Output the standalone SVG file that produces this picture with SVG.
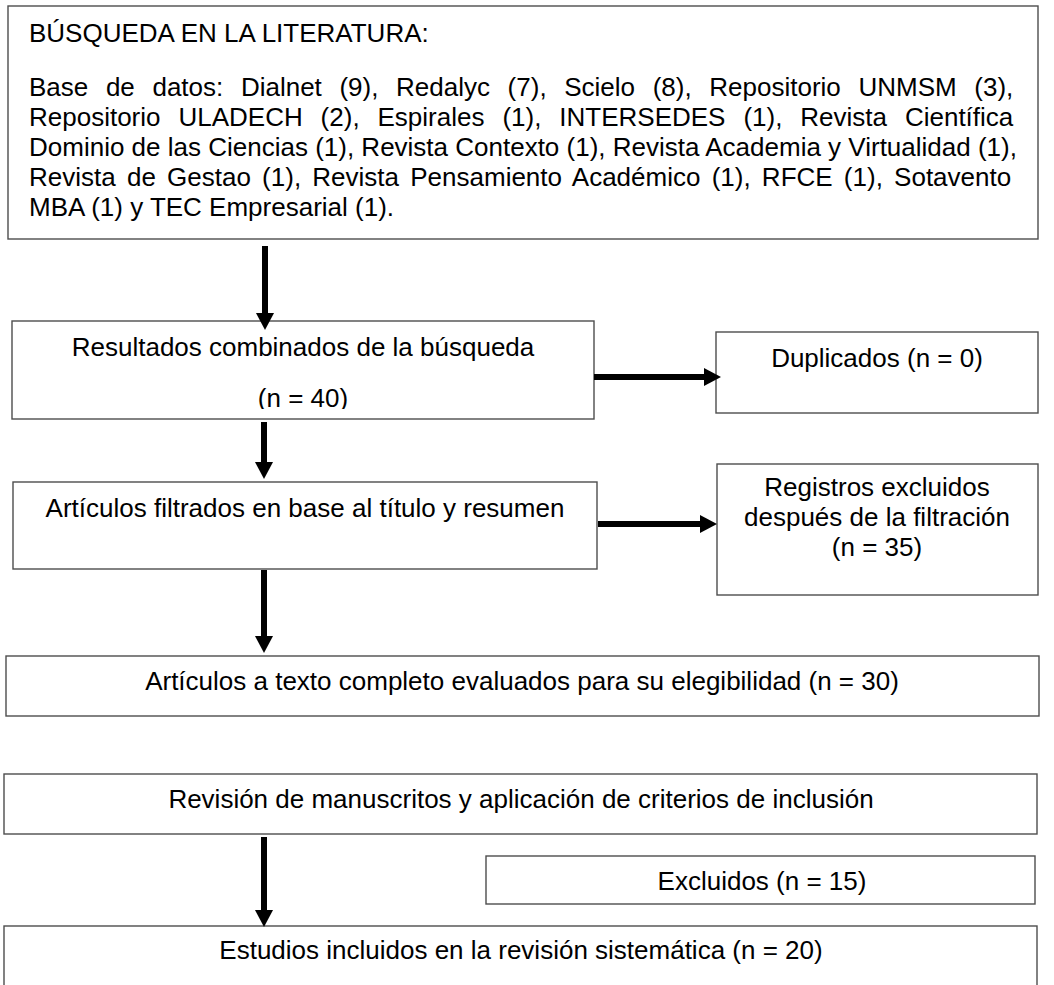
<svg xmlns="http://www.w3.org/2000/svg" width="1054" height="985" viewBox="0 0 1054 985">
<style>
  .box{fill:#fff;stroke:#4d4d4d;stroke-width:1.4}
  .t{font-family:"Liberation Sans",Arial,sans-serif;font-size:26px;fill:#000}
  .c{text-anchor:middle}
  .arrow{stroke:#000;stroke-width:6;fill:none;marker-end:url(#head)}
</style>
<defs>
  <marker id="head" markerUnits="userSpaceOnUse" markerWidth="18" markerHeight="18" refX="0" refY="9" orient="auto">
    <path d="M0,0 L17,9 L0,18 Z" fill="#000"/>
  </marker>
  <clipPath id="clipRes"><rect x="12" y="321" width="582" height="88"/></clipPath>
</defs>
<rect width="1054" height="985" fill="#fff"/>

<g id="busqueda">
  <rect class="box" x="8" y="6" width="1030" height="233"/>
  <text class="t" x="29" y="42">BÚSQUEDA EN LA LITERATURA:</text>
  <text class="t" x="29" y="96" style="word-spacing:10.4px">Base de datos: Dialnet (9), Redalyc (7), Scielo (8), Repositorio UNMSM (3),</text>
  <text class="t" x="29" y="126" style="word-spacing:10.7px">Repositorio ULADECH (2), Espirales (1), INTERSEDES (1), Revista Científica</text>
  <text class="t" x="29" y="156">Dominio de las Ciencias (1), Revista Contexto (1), Revista Academia y Virtualidad (1),</text>
  <text class="t" x="29" y="186" style="word-spacing:4px">Revista de Gestao (1), Revista Pensamiento Académico (1), RFCE (1), Sotavento</text>
  <text class="t" x="29" y="216">MBA (1) y TEC Empresarial (1).</text>
</g>

<g id="resultados">
  <rect class="box" x="12" y="321" width="582" height="98"/>
  <text class="t c" x="303" y="356">Resultados combinados de la búsqueda</text>
  <text class="t c" x="303" y="407" clip-path="url(#clipRes)">(n = 40)</text>
</g>

<g id="duplicados">
  <rect class="box" x="716" y="332" width="322" height="81"/>
  <text class="t c" x="877" y="367">Duplicados (n = 0)</text>
</g>

<g id="filtrados">
  <rect class="box" x="13" y="482" width="584" height="87"/>
  <text class="t c" x="305" y="517">Artículos filtrados en base al título y resumen</text>
</g>

<g id="registros">
  <rect class="box" x="717" y="464" width="321" height="131"/>
  <text class="t c" x="877" y="496">Registros excluidos</text>
  <text class="t c" x="877" y="526">después de la filtración</text>
  <text class="t c" x="877" y="556">(n = 35)</text>
</g>

<g id="texto-completo">
  <rect class="box" x="6" y="656" width="1033" height="60"/>
  <text class="t c" x="522" y="690">Artículos a texto completo evaluados para su elegibilidad (n = 30)</text>
</g>

<g id="revision">
  <rect class="box" x="4" y="774" width="1033" height="60"/>
  <text class="t c" x="521" y="808">Revisión de manuscritos y aplicación de criterios de inclusión</text>
</g>

<g id="excluidos">
  <rect class="box" x="486" y="856" width="549" height="48"/>
  <text class="t c" x="762" y="890">Excluidos (n = 15)</text>
</g>

<g id="estudios">
  <rect class="box" x="4" y="926" width="1033" height="80"/>
  <text class="t c" x="521" y="959">Estudios incluidos en la revisión sistemática (n = 20)</text>
</g>

<g id="connectors">
  <line class="arrow" x1="265" y1="246" x2="265" y2="313"/>
  <line class="arrow" x1="264" y1="422" x2="264" y2="462"/>
  <line class="arrow" x1="594" y1="377" x2="704" y2="377"/>
  <line class="arrow" x1="598" y1="524" x2="700" y2="524"/>
  <line class="arrow" x1="264" y1="570" x2="264" y2="636"/>
  <line class="arrow" x1="264" y1="837" x2="264" y2="910"/>
</g>
</svg>
